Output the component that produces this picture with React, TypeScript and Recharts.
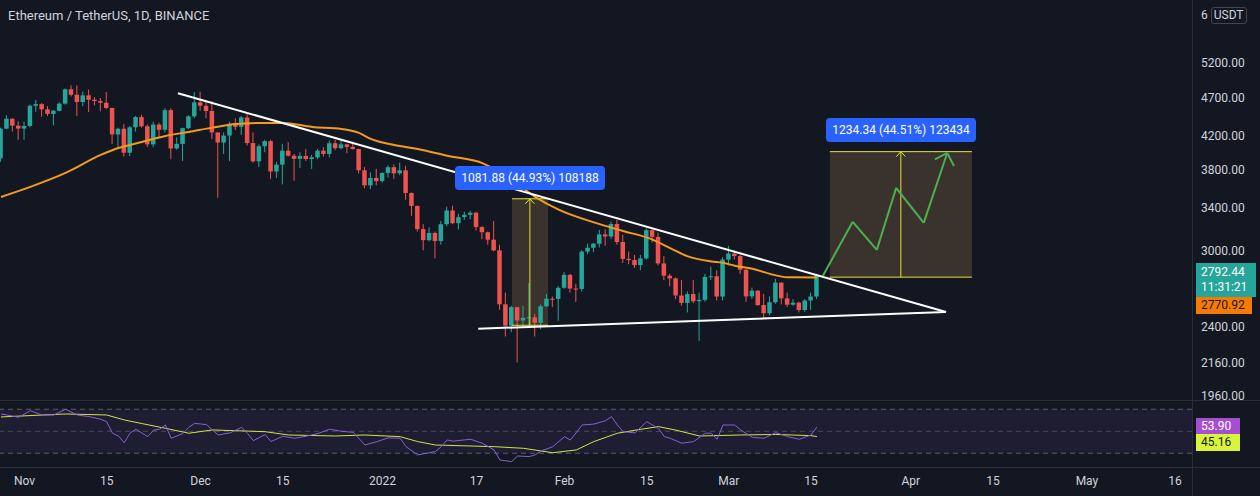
import React from 'react';
import { ComposedChart, Bar, Line, XAxis, YAxis, ReferenceLine, ReferenceArea } from 'recharts';

// day 0 = 1 Nov 2021, first candle = 28 Oct 2021
const FIRST_DAY = -4;

const OPEN = [
  3930, 4287, 4414, 4325, 4288, 4321, 4585, 4607, 4537, 4477, 4518, 4614, 4812, 4735, 4636, 4727, 4667, 4649, 4626, 4556,
  4215, 4286, 3995, 4304, 4436, 4317, 4094, 4339, 4273, 4527, 4045, 4100, 4294, 4445, 4631, 4585, 4515, 4240, 4116, 4201,
  4350, 4310, 4430, 4110, 3895, 4072, 4133, 3781, 3858, 4019, 3960, 3924, 3957, 3922, 3941, 4019, 3981, 4108, 4048, 4094,
  4064, 4039, 3794, 3630, 3710, 3676, 3765, 3829, 3761, 3794, 3550, 3418, 3193, 3091, 3157, 3083, 3239, 3372, 3249, 3307,
  3330, 3350, 3212, 3164, 3095, 3000, 2561, 2406, 2539, 2442, 2461, 2465, 2425, 2546, 2603, 2602, 2688, 2792, 2682, 2679,
  2989, 3023, 3059, 3144, 3124, 3241, 3074, 2926, 2916, 2873, 2930, 3183, 3121, 2887, 2785, 2763, 2628, 2571, 2639, 2584,
  2595, 2775, 2780, 2620, 2920, 2972, 2950, 2834, 2621, 2665, 2555, 2495, 2576, 2729, 2606, 2558, 2573, 2518, 2590, 2620,
];
const HIGH = [
  4300, 4460, 4420, 4380, 4378, 4600, 4665, 4620, 4580, 4530, 4632, 4825, 4868, 4868, 4780, 4809, 4705, 4690, 4773, 4557,
  4300, 4345, 4320, 4450, 4465, 4340, 4374, 4362, 4550, 4550, 4180, 4300, 4460, 4770, 4778, 4650, 4648, 4240, 4240, 4375,
  4420, 4450, 4480, 4240, 4095, 4150, 4150, 3890, 4100, 4120, 3980, 4000, 4040, 3970, 4040, 4060, 4140, 4150, 4145, 4100,
  4125, 4040, 3830, 3770, 3810, 3770, 3850, 3860, 3880, 3845, 3555, 3420, 3240, 3210, 3170, 3270, 3410, 3420, 3340, 3360,
  3370, 3360, 3220, 3170, 3270, 3050, 2650, 2550, 2540, 2550, 2725, 2490, 2560, 2640, 2620, 2700, 2815, 2800, 2720, 3000,
  3060, 3065, 3185, 3190, 3265, 3280, 3140, 2990, 2960, 2960, 3200, 3190, 3160, 2950, 2800, 2770, 2750, 2660, 2750, 2650,
  2800, 2860, 2830, 2940, 3040, 3000, 2960, 2840, 2690, 2670, 2640, 2620, 2760, 2730, 2650, 2600, 2580, 2600, 2650, 2800,
];
const LOW = [
  3890, 4280, 4250, 4150, 4150, 4304, 4505, 4440, 4448, 4330, 4510, 4600, 4712, 4450, 4580, 4500, 4590, 4510, 4540, 4100,
  4060, 3950, 3955, 4250, 4300, 4060, 4060, 4170, 4240, 3920, 4030, 3900, 4280, 4420, 4520, 4420, 4160, 3500, 3980, 3900,
  4270, 4210, 4080, 3880, 3830, 4000, 3700, 3710, 3640, 3950, 3680, 3820, 3900, 3810, 3920, 3950, 3940, 4025, 4035, 3990,
  4030, 3760, 3600, 3590, 3630, 3660, 3715, 3700, 3740, 3480, 3320, 3170, 3000, 3080, 2930, 3050, 3220, 3240, 3190, 3280,
  3285, 3180, 3100, 3050, 2990, 2520, 2330, 2360, 2159, 2390, 2400, 2330, 2380, 2540, 2540, 2440, 2680, 2650, 2580, 2660,
  2965, 2985, 3025, 3040, 3100, 3050, 2890, 2880, 2850, 2830, 2920, 3070, 2870, 2750, 2700, 2600, 2550, 2500, 2570, 2300,
  2580, 2750, 2590, 2590, 2870, 2920, 2800, 2580, 2600, 2550, 2450, 2480, 2565, 2560, 2540, 2550, 2500, 2505, 2520, 2600,
];
const CLOSE = [
  4287, 4414, 4325, 4288, 4321, 4585, 4607, 4537, 4477, 4518, 4614, 4812, 4735, 4636, 4727, 4667, 4649, 4626, 4556, 4215,
  4286, 3995, 4304, 4436, 4317, 4094, 4339, 4273, 4527, 4045, 4100, 4294, 4445, 4631, 4585, 4515, 4240, 4116, 4201, 4350,
  4310, 4430, 4110, 3895, 4072, 4133, 3781, 3858, 4019, 3960, 3924, 3957, 3922, 3941, 4019, 3981, 4108, 4048, 4094, 4064,
  4039, 3794, 3630, 3710, 3676, 3765, 3829, 3761, 3794, 3550, 3418, 3193, 3091, 3157, 3083, 3239, 3372, 3249, 3307, 3330,
  3350, 3212, 3164, 3095, 3000, 2561, 2406, 2539, 2442, 2461, 2465, 2425, 2546, 2603, 2602, 2688, 2792, 2682, 2679, 2989,
  3023, 3059, 3144, 3124, 3241, 3074, 2926, 2916, 2873, 2930, 3183, 3121, 2887, 2785, 2763, 2628, 2571, 2639, 2584, 2595,
  2775, 2780, 2620, 2920, 2972, 2950, 2834, 2621, 2665, 2555, 2495, 2576, 2729, 2606, 2558, 2573, 2518, 2590, 2620, 2792.44,
];

// orange moving average, read at sample days
const MA: [number, number][] = [
  [-4, 3509], [1, 3614], [7, 3765], [13, 3969], [16, 4050], [20, 4122], [24, 4197], [28, 4246], [32, 4300],
  [36, 4345], [41, 4360], [44, 4360], [49, 4309], [54, 4284], [57, 4234], [59, 4160], [63, 4086], [67, 4038],
  [72, 3960], [78, 3875], [83, 3688], [87, 3510], [91, 3380], [98, 3240], [102, 3175], [107, 3096], [110, 3020],
  [113, 2947], [117, 2904], [119, 2893], [121, 2867], [124, 2842], [127, 2800], [130, 2772], [135, 2770.92],
];

const RSI: [number, number][] = [
  [-4, 65.7], [-3, 64.8], [-1, 62.7], [1, 68.7], [3, 64.8], [5, 64.8], [7, 70], [9, 64.8], [11, 63.3], [13, 60.9],
  [14, 58.7], [15, 48.2], [16, 45.7], [17, 39.6], [18, 48.4], [19, 51.8], [21, 45.1], [22, 51], [23, 51.8], [24, 55.7],
  [25, 43.6], [27, 48], [28, 53.6], [29, 57.2], [31, 56], [33, 46.6], [35, 48.5], [37, 53.6], [38, 48], [39, 41.5],
  [41, 47], [42, 40.6], [44, 45.5], [46, 43.6], [48, 45.5], [50, 48], [52, 51.8], [54, 50], [56, 49], [58, 37.5],
  [60, 40.5], [62, 44], [64, 43.6], [65, 36], [67, 28.5], [70, 31.5], [71, 36], [72, 42.1], [73, 41], [76, 42.7],
  [78, 39.1], [80, 33], [81, 23.9], [83, 22.4], [84, 27.5], [86, 27], [87, 28.5], [88, 32], [90, 36], [92, 45.1],
  [93, 42], [95, 55.7], [97, 56.5], [99, 59.6], [100, 63.3], [101, 55.7], [102, 49.7], [104, 48.5], [106, 58.7],
  [108, 52.6], [109, 45.1], [110, 43.6], [112, 39.1], [114, 40.6], [116, 48.2], [117, 48.2], [118, 42.7], [119, 55.7],
  [121, 55.7], [122, 51.2], [124, 44.5], [126, 43.6], [128, 48.8], [130, 45.1], [132, 42.7], [134, 46.6], [135, 53.9],
];

const RSI_MA: [number, number][] = [
  [-4, 63], [2, 64.5], [7, 65.7], [14, 64.8], [17, 60.3], [20, 57], [24, 52.7], [28, 48.2], [32, 51.2], [41, 49.6],
  [45, 46.6], [53, 45.7], [58, 46.6], [64, 45.1], [67, 40.6], [70, 37.5], [80, 36], [85, 34.5], [90, 30.5], [94, 33],
  [97, 40.6], [101, 48.2], [105, 51.8], [108, 54.2], [111, 51], [115, 45.7], [122, 46.6], [128, 47.1], [134, 46], [135, 45.16],
];

const TIME_TICKS = [0, 14, 30, 44, 61, 77, 92, 106, 120, 134, 151, 165, 181, 196];
const TIME_LABELS = ['Nov', '15', 'Dec', '15', '2022', '17', 'Feb', '15', 'Mar', '15', 'Apr', '15', 'May', '16'];
const PRICE_TICKS = [1960, 2160, 2400, 3000, 3400, 3800, 4200, 4700, 5200];

const X_DOMAIN: [number, number] = [-4.17, 198.9];
const BG = '#131722';
const UP = '#26a69a';
const DOWN = '#ef5350';
const TEXT = '#d1d4dc';
const BORDER = '#2a2e39';

const maMap = new Map(MA);
const rows = OPEN.map((o, i) => {
  const d = FIRST_DAY + i;
  return { d, o, h: HIGH[i], l: LOW[i], c: CLOSE[i], ma: maMap.get(d) ?? null };
});

const rsiMap = new Map(RSI);
const rsiMaMap = new Map(RSI_MA);
const rsiRows = rows.map((r) => ({ d: r.d, rsi: rsiMap.get(r.d) ?? null, rsiMa: rsiMaMap.get(r.d) ?? null }));

function Candle(props: any) {
  const { x, y, width, height, payload } = props;
  if (!payload || y == null) return null;
  const { o, h, l, c } = payload;
  const top = Math.min(y, y + height);
  const bot = Math.max(y, y + height);
  const span = Math.log(h) - Math.log(l);
  const py = (p: number) => (span > 0 ? top + ((Math.log(h) - Math.log(p)) / span) * (bot - top) : top);
  const cx = x + width / 2;
  const color = c >= o ? UP : DOWN;
  const y1 = py(Math.max(o, c));
  const y2 = py(Math.min(o, c));
  return (
    <g>
      <line x1={cx} x2={cx} y1={top} y2={bot} stroke={color} strokeWidth={1} />
      <rect x={cx - 2.25} y={y1} width={4.5} height={Math.max(1, y2 - y1)} fill={color} />
    </g>
  );
}

// drawings (data coordinates)
const TREND_TOP = [{ x: 26.15, y: 4757 }, { x: 157, y: 2504 }];
const TREND_BOTTOM = [{ x: 77.3, y: 2384 }, { x: 157, y: 2504 }];
const RANGE_1 = { x1: 83.05, x2: 89.2, y1: 2408, y2: 3489.9, ax: 86.1 };
const RANGE_2 = { x1: 137.2, x2: 161.4, y1: 2773.2, y2: 4007.5, ax: 149.3 };
const ZIGZAG: [number, number][] = [
  [136.0, 2783], [141.1, 3262], [145.2, 3004], [148.5, 3603], [153.2, 3252], [157.2, 3992],
];
const ZIGZAG_HEAD: [number, number][] = [[155.1, 3918], [158.35, 3842]];

function rangeLines(r: typeof RANGE_1, key: string) {
  const wing = r.y2 * 0.9855;
  return [
    <ReferenceArea key={key + 'a'} x1={r.x1} x2={r.x2} y1={r.y1} y2={r.y2} fill="rgba(214,158,84,0.2)" fillOpacity={1} stroke="none" ifOverflow="visible" />,
    <ReferenceLine key={key + 't'} segment={[{ x: r.x1, y: r.y2 }, { x: r.x2, y: r.y2 }]} stroke="#e8e036" strokeWidth={1} ifOverflow="visible" />,
    <ReferenceLine key={key + 'b'} segment={[{ x: r.x1, y: r.y1 }, { x: r.x2, y: r.y1 }]} stroke="#e8e036" strokeWidth={1} ifOverflow="visible" />,
    <ReferenceLine key={key + 'v'} segment={[{ x: r.ax, y: r.y1 }, { x: r.ax, y: r.y2 }]} stroke="#e8e036" strokeWidth={1} ifOverflow="visible" />,
    <ReferenceLine key={key + 'w1'} segment={[{ x: r.ax - 0.77, y: wing }, { x: r.ax, y: r.y2 }]} stroke="#e8e036" strokeWidth={1} ifOverflow="visible" />,
    <ReferenceLine key={key + 'w2'} segment={[{ x: r.ax + 0.77, y: wing }, { x: r.ax, y: r.y2 }]} stroke="#e8e036" strokeWidth={1} ifOverflow="visible" />,
  ];
}

const boxLabel: React.CSSProperties = {
  position: 'absolute',
  background: '#2962ff',
  color: '#ffffff',
  fontSize: 12,
  height: 24,
  lineHeight: '24px',
  width: 150,
  textAlign: 'center',
  borderRadius: 4,
};

const axisTag: React.CSSProperties = {
  position: 'absolute',
  left: 1196,
  fontSize: 12,
  paddingLeft: 5,
  boxSizing: 'border-box',
};

export default function App() {
  return (
    <div
      style={{
        position: 'fixed',
        left: 0,
        top: 0,
        width: 1260,
        height: 496,
        background: BG,
        fontFamily: 'Roboto, sans-serif',
        overflow: 'hidden',
      }}
    >
      <div style={{ position: 'absolute', left: 0, top: 0 }}>
        {/* plot area is y 0..400; extra 10px below keeps the lowest price label whole */}
        <ComposedChart width={1260} height={410} data={rows} margin={{ top: 0, right: 0, bottom: 10, left: 0 }}>
          <XAxis type="number" dataKey="d" domain={X_DOMAIN} hide allowDataOverflow />
          <YAxis
            orientation="right"
            width={68}
            scale="log"
            domain={[1934, 6253]}
            ticks={PRICE_TICKS}
            interval={0}
            allowDataOverflow
            axisLine={false}
            tickLine={false}
            tickSize={6}
            tickMargin={3}
            tick={{ fill: TEXT, fontSize: 12 }}
            tickFormatter={(v: number) => v.toFixed(2)}
          />
          {rangeLines(RANGE_1, 'r1')}
          {rangeLines(RANGE_2, 'r2')}
          <Bar
            dataKey={(d: any) => [d.l, d.h]}
            barSize={5}
            shape={(p: any) => <Candle {...p} />}
            isAnimationActive={false}
          />
          <Line
            dataKey="ma"
            type="monotone"
            stroke="#f59b1a"
            strokeWidth={2}
            dot={false}
            activeDot={false}
            connectNulls
            isAnimationActive={false}
          />
          <ReferenceLine segment={TREND_TOP} stroke="#ffffff" strokeWidth={2} ifOverflow="visible" />
          <ReferenceLine segment={TREND_BOTTOM} stroke="#ffffff" strokeWidth={2} ifOverflow="visible" />
          {ZIGZAG.slice(1).map((p, i) => (
            <ReferenceLine
              key={'z' + i}
              segment={[{ x: ZIGZAG[i][0], y: ZIGZAG[i][1] }, { x: p[0], y: p[1] }]}
              stroke="#4caf50"
              strokeWidth={2}
              ifOverflow="visible"
            />
          ))}
          {ZIGZAG_HEAD.map((p, i) => (
            <ReferenceLine
              key={'h' + i}
              segment={[{ x: p[0], y: p[1] }, { x: ZIGZAG[5][0], y: ZIGZAG[5][1] }]}
              stroke="#4caf50"
              strokeWidth={2}
              ifOverflow="visible"
            />
          ))}
        </ComposedChart>
      </div>

      <div style={{ position: 'absolute', left: 0, top: 401 }}>
        <ComposedChart width={1260} height={95} data={rsiRows} margin={{ top: 0, right: 0, bottom: 0, left: 0 }}>
          <XAxis
            type="number"
            dataKey="d"
            domain={X_DOMAIN}
            ticks={TIME_TICKS}
            interval={0}
            allowDataOverflow
            height={28}
            axisLine={false}
            tickLine={false}
            tick={{ fill: TEXT, fontSize: 12 }}
            tickFormatter={(v: number) => TIME_LABELS[TIME_TICKS.indexOf(v)] ?? ''}
          />
          <YAxis orientation="right" width={68} domain={[16.6, 77.5]} allowDataOverflow tick={false} axisLine={false} tickLine={false} />
          <ReferenceArea y1={30} y2={70} fill="#7e57c2" fillOpacity={0.1} stroke="none" />
          <ReferenceLine y={70} stroke="#787b86" strokeOpacity={0.7} strokeDasharray="5 4" />
          <ReferenceLine y={50} stroke="#787b86" strokeOpacity={0.5} strokeDasharray="5 4" />
          <ReferenceLine y={30} stroke="#787b86" strokeOpacity={0.7} strokeDasharray="5 4" />
          <Line dataKey="rsiMa" stroke="#d4e34a" strokeWidth={1} dot={false} activeDot={false} connectNulls isAnimationActive={false} />
          <Line dataKey="rsi" stroke="#8a5fd6" strokeWidth={1} dot={false} activeDot={false} connectNulls isAnimationActive={false} />
        </ComposedChart>
      </div>

      {/* separators */}
      <div style={{ position: 'absolute', left: 0, top: 400, width: 1260, height: 1, background: BORDER }} />
      <div style={{ position: 'absolute', left: 0, top: 467, width: 1260, height: 1, background: BORDER }} />
      <div style={{ position: 'absolute', left: 1192, top: 0, width: 1, height: 496, background: BORDER }} />

      <div style={{ position: 'absolute', left: 8, top: 8, color: TEXT, fontSize: 13, lineHeight: '16px' }}>
        Ethereum / TetherUS, 1D, BINANCE
      </div>

      <div style={{ position: 'absolute', left: 1201, top: 7, color: TEXT, fontSize: 12, lineHeight: '17px', display: 'flex', gap: 3 }}>
        <span>6</span>
        <span style={{ border: '1px solid #434651', borderRadius: 3, padding: '0 2px', lineHeight: '15px' }}>USDT</span>
      </div>

      <div style={{ ...boxLabel, left: 455, top: 166 }}>1081.88 (44.93%) 108188</div>
      <div style={{ ...boxLabel, left: 826, top: 118 }}>1234.34 (44.51%) 123434</div>

      <div style={{ ...axisTag, top: 263, width: 60, height: 34, background: UP, color: '#ffffff', lineHeight: '15px', paddingTop: 2 }}>
        2792.44
        <br />
        11:31:21
      </div>
      <div style={{ ...axisTag, top: 297, width: 56, height: 17, background: '#f57c00', color: '#131722', lineHeight: '17px' }}>
        2770.92
      </div>
      <div style={{ ...axisTag, top: 418, width: 44, height: 16, background: '#a54fd0', color: '#ffffff', lineHeight: '16px' }}>
        53.90
      </div>
      <div style={{ ...axisTag, top: 434, width: 44, height: 17, background: '#d8f53c', color: '#131722', lineHeight: '17px' }}>
        45.16
      </div>
    </div>
  );
}
